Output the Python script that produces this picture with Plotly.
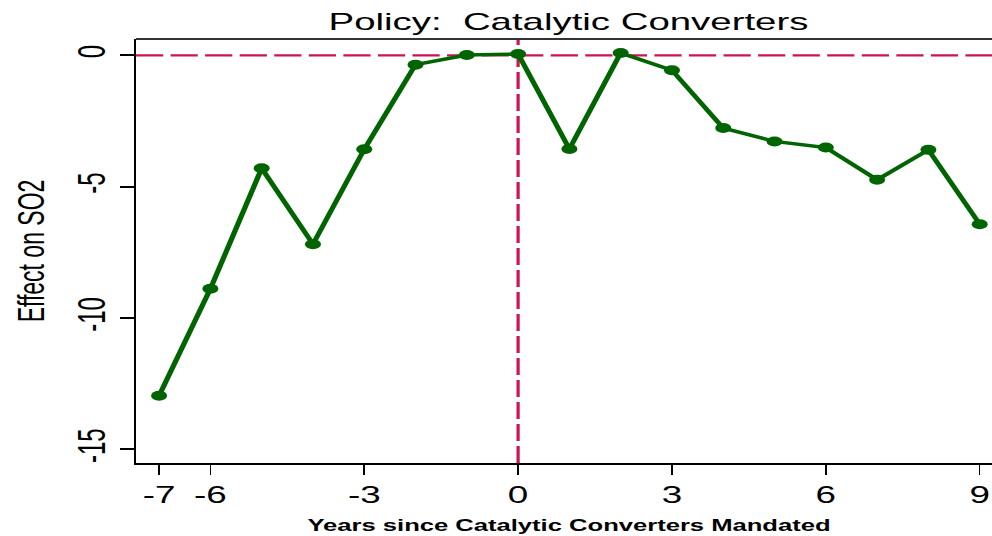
import plotly.graph_objects as go

# Event-study estimates: effect on SO2 by years since the mandate
years = [-7, -6, -5, -4, -3, -2, -1, 0, 1, 2, 3, 4, 5, 6, 7, 8, 9]
effect = [-12.96, -8.89, -4.30, -7.19, -3.58, -0.36, 0.01, 0.05,
          -3.57, 0.09, -0.57, -2.77, -3.28, -3.51, -4.74, -3.60, -6.43]

x_tick_vals = [-7, -6, -3, 0, 3, 6, 9]
y_tick_vals = [-15, -10, -5, 0]
# plain hyphen-minus labels
x_tick_text = [str(v) for v in x_tick_vals]
y_tick_text = [str(v) for v in y_tick_vals]

title_text = "Policy:\u00a0 Catalytic Converters"
x_title = "Years since Catalytic Converters Mandated"
y_title = "Effect on SO2"

# The chart is laid out narrow and widened horizontally in the page
STRETCH = 1.6
W, H = 620, 536
FONT = "Liberation Sans, Arial, sans-serif"
GREEN = "#006400"
RED = "#cc1450"

fig = go.Figure()
fig.add_trace(go.Scatter(
    x=years, y=effect, mode="lines+markers",
    line=dict(color=GREEN, width=3.4),
    marker=dict(color=GREEN, size=10),
    hoverinfo="skip",
))

# Reference lines at zero effect and at the mandate year
fig.add_shape(type="line", xref="paper", yref="y", x0=0, x1=1, y0=0, y1=0,
              line=dict(color=RED, width=2.2, dash="17px,4.6px"), layer="below")
fig.add_shape(type="line", xref="x", yref="paper", x0=0, x1=0, y0=0, y1=1,
              line=dict(color=RED, width=2, dash="17px,5px"), layer="below")
# top border of the plot frame
fig.add_shape(type="line", xref="paper", yref="paper", x0=0, x1=1, y0=1, y1=1,
              line=dict(color="#333333", width=2), layer="above")

fig.update_layout(
    width=W, height=H,
    margin=dict(l=85, r=0, t=39, b=73, pad=0),
    paper_bgcolor="white", plot_bgcolor="white",
    showlegend=False,
    font=dict(family=FONT, color="black"),
    title=dict(text=title_text, font=dict(family=FONT, size=24, color="black"),
               xref="container", x=355.3 / W, xanchor="center",
               yref="container", y=1 - 22 / H, yanchor="middle"),
    xaxis=dict(range=[-7.45, 9.24], tickvals=x_tick_vals, ticktext=x_tick_text,
               showline=True, linecolor="black", linewidth=2,
               ticks="outside", ticklen=10, tickwidth=1.3, tickcolor="black",
               showgrid=False, zeroline=False,
               tickfont=dict(family=FONT, size=23, color="black")),
    yaxis=dict(range=[-15.52, 0.62], tickvals=y_tick_vals, ticktext=y_tick_text,
               showline=True, linecolor="black", linewidth=1.3,
               ticks="outside", ticklen=8.75, tickwidth=2, tickcolor="black",
               tickangle=-90,
               showgrid=False, zeroline=False,
               tickfont=dict(family=FONT, size=24, color="black")),
    annotations=[
        dict(text=y_title, textangle=-90, showarrow=False,
             xref="paper", yref="paper", x=(19.4 - 85) / (W - 85), y=0.5,
             xanchor="center", yanchor="middle",
             font=dict(family=FONT, size=23, color="black")),
        dict(text="<b>%s</b>" % x_title, showarrow=False,
             xref="paper", yref="paper", x=(355.3 - 85) / (W - 85),
             y=-(525 - 463) / (H - 39 - 73),
             xanchor="center", yanchor="middle",
             font=dict(family=FONT, size=16, color="black")),
    ],
)

post_script = """
var gd = document.getElementById('{plot_id}');
document.body.style.margin = '0';
document.body.style.overflow = 'hidden';
gd.style.transformOrigin = '0 0';
gd.style.transform = 'scale(%s, 1)';
""" % STRETCH

fig.write_html("out.html", config={"displayModeBar": False}, post_script=post_script)
